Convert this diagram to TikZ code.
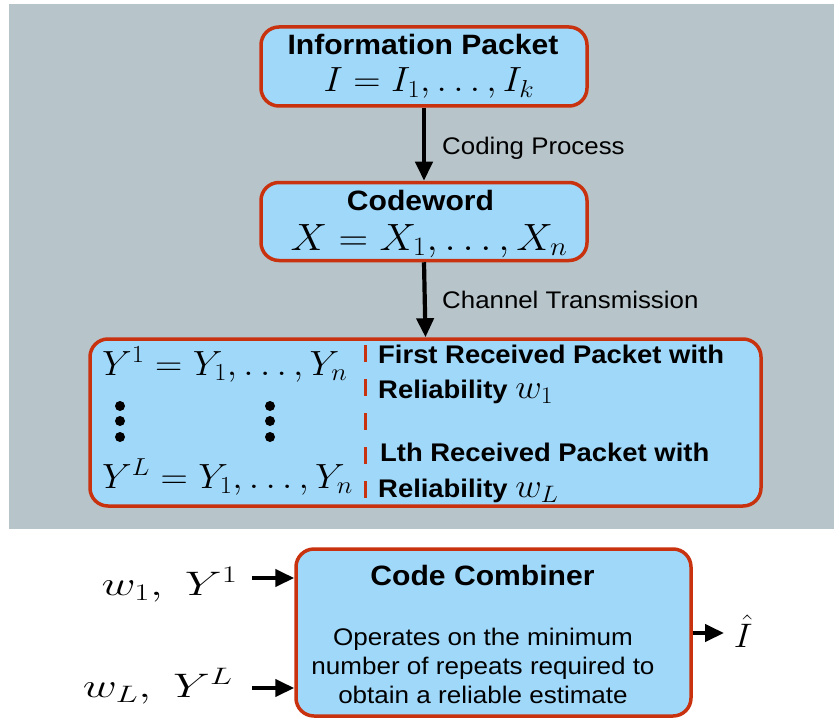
\RequirePackage{fix-cm}
\documentclass[tikz,border=0pt]{standalone}
\usepackage{fontspec}
\newfontfamily\hv{Liberation Sans}
\usetikzlibrary{arrows.meta}
\definecolor{bg}{RGB}{183,196,201}
\definecolor{boxfill}{RGB}{160,216,250}
\definecolor{boxline}{RGB}{200,50,15}
\tikzset{
  box/.style={draw=boxline, fill=boxfill, line width=3.5pt, rounded corners=18pt, inner sep=0pt},
  ttl/.style={font=\hv\bfseries\fontsize{28}{30}\selectfont, inner sep=0pt, anchor=base, xscale=1.075},
  rtx/.style={font=\hv\bfseries\fontsize{25.5}{30}\selectfont, inner sep=0pt, anchor=base west, xscale=1.075},
  lbl/.style={font=\hv\fontsize{24}{28}\selectfont, inner sep=0pt, anchor=base west, xscale=1.077},
  body/.style={font=\hv\fontsize{24}{28}\selectfont, inner sep=0pt, anchor=base, xscale=1.085},
  mth/.style={font=\fontsize{34}{40}\selectfont, inner sep=0pt, anchor=base, xscale=1.08},
  dotn/.style={circle, fill=black, inner sep=0pt, minimum size=10pt},
  arr/.style={line width=4.2pt, -{Triangle[length=19pt,width=17pt]}},
  dsh/.style={draw=boxline, line width=3pt, dash pattern=on 17pt off 17pt}
}
\newcommand{\mybigmath}[1]{{\fontsize{34}{40}\selectfont$#1$}}
\begin{document}
\begin{tikzpicture}[x=1pt,y=-1pt]
\useasboundingbox (0,0) rectangle (834,722);
\fill[bg] (9,4) rectangle (834,529);

% Information packet
\node[box, minimum width=326pt, minimum height=79pt] (info) at (424,66.5) {};
\node[ttl] (infot) at (423,55) {Information Packet};
\node[mth, font=\fontsize{35}{40}\selectfont] (infom) at (429,92) {$I=I_1,\ldots,I_k$};

% Codeword
\node[box, minimum width=326pt, minimum height=78pt] (code) at (424,221.5) {};
\node[ttl] (codet) at (420.5,210) {Codeword};
\node[mth, font=\fontsize{38}{44}\selectfont] (codem) at (429,250) {$X=X_1,\ldots,X_n$};

\draw[arr] (info.south) -- (code.north);
\node[lbl] (cp) at (442,154) {Coding Process};

% Received packets
\node[box, minimum width=671pt, minimum height=167pt] (recv) at (425.5,422.5) {};
\draw[arr] (code.south) -- (recv.north);
\node[lbl] (ct) at (442,308) {Channel Transmission};

\node[mth, font=\fontsize{35}{40}\selectfont, anchor=base west] (y1) at (102,375) {$Y^1=Y_1,\ldots,Y_n$};
\node[mth, font=\fontsize{35}{40}\selectfont, anchor=base west] (yL) at (102,488) {$Y^L=Y_1,\ldots,Y_n$};
\node[dotn] (d1) at (120,406) {};
\node[dotn] (d2) at (120,421) {};
\node[dotn] (d3) at (120,437) {};
\node[dotn] (d4) at (270,406) {};
\node[dotn] (d5) at (270,421) {};
\node[dotn] (d6) at (270,437) {};
\coordinate (dtop) at (365,345);
\coordinate (dbot) at (365,500);
\draw[dsh] (dtop) -- (dbot);

\node[rtx] (r1) at (378,363) {First Received Packet with};
\node[rtx] (r2) at (378,398) {Reliability \mybigmath{w_1}};
\node[rtx] (r3) at (380,461) {Lth Received Packet with};
\node[rtx] (r4) at (378,497) {Reliability \mybigmath{w_L}};

% Code combiner
\node[box, minimum width=395pt, minimum height=167pt] (comb) at (493.5,632.5) {};
\node[ttl] (combt) at (482.5,585) {Code Combiner};
\node[body] (cb1) at (483,645) {Operates on the minimum};
\node[body] (cb2) at (483,674) {number of repeats required to};
\node[body] (cb3) at (483,703) {obtain a reliable estimate};

\node[mth, anchor=base east, xscale=1.28] (in1) at (238,595) {$w_1,\ Y^1$};
\node[mth, anchor=base east, xscale=1.28] (in2) at (233,697) {$w_L,\ Y^L$};
\coordinate (a1) at (252,578);
\coordinate (a2) at (252,688);
\draw[arr] (a1) -- (a1 -| comb.west);
\draw[arr] (a2) -- (a2 -| comb.west);

\node[mth, anchor=base west, inner xsep=9pt] (ihat) at (724,647) {$\hat{I}$};
\coordinate (o1) at (comb.east |- 0,633);
\draw[arr] (o1) -- (ihat.west |- o1);
\end{tikzpicture}
\end{document}
